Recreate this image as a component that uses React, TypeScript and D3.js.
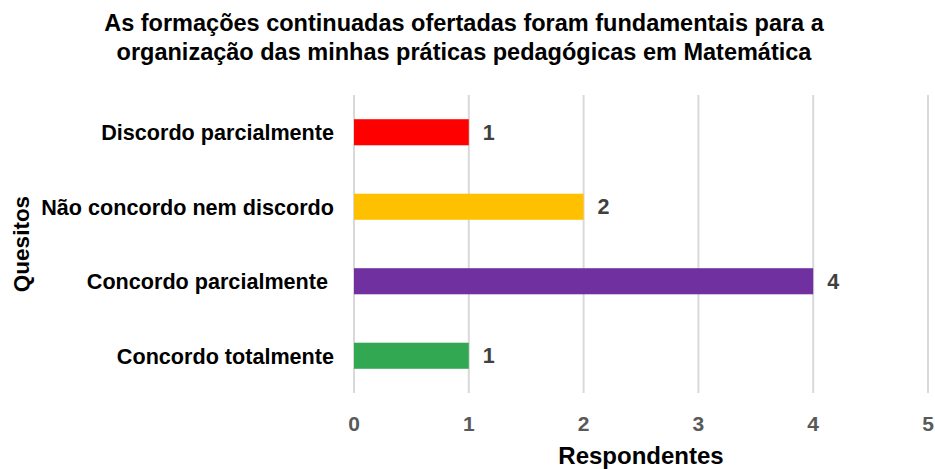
import React, { useEffect, useRef } from 'react';
import * as d3 from 'd3';

const categories = [
  'Discordo parcialmente',
  'Não concordo nem discordo',
  'Concordo parcialmente ',
  'Concordo totalmente',
];
const values = [1, 2, 4, 1];
const colors = ['#ff0000', '#ffc000', '#7030a0', '#33a853'];
const xTicks = [0, 1, 2, 3, 4, 5];
const titleLines = [
  'As formações continuadas ofertadas foram fundamentais para a',
  'organização das minhas práticas pedagógicas em Matemática',
];

const font = 'Arial, "Liberation Sans", sans-serif';

const App = () => {
  const ref = useRef<SVGSVGElement | null>(null);

  useEffect(() => {
    if (!ref.current) return;
    const width = 935, height = 469;
    const margin = { top: 95, right: 7, bottom: 76, left: 354 };
    const innerW = width - margin.left - margin.right;
    const innerH = height - margin.top - margin.bottom;

    const svg = d3.select(ref.current);
    svg.selectAll('*').remove();

    // title
    svg.append('g')
      .selectAll('text')
      .data(titleLines)
      .enter()
      .append('text')
      .attr('x', 464)
      .attr('y', (d, i) => 31 + i * 29)
      .attr('text-anchor', 'middle')
      .style('font-family', font)
      .style('font-weight', 'bold')
      .style('font-size', '23.5px')
      .style('fill', '#000')
      .text(d => d);

    const g = svg.append('g').attr('transform', `translate(${margin.left},${margin.top})`);

    const x = d3.scaleLinear().domain([0, 5]).range([0, innerW]);
    const y = d3.scaleBand().domain(categories).range([0, innerH]).paddingInner(0.65).paddingOuter(0.325);

    // gridlines
    g.selectAll('.grid')
      .data(xTicks)
      .enter()
      .append('line')
      .attr('x1', d => x(d)).attr('x2', d => x(d))
      .attr('y1', 0).attr('y2', innerH)
      .style('stroke', '#d9d9d9')
      .style('stroke-width', 2);

    // x tick labels
    g.selectAll('.tick')
      .data(xTicks)
      .enter()
      .append('text')
      .attr('x', d => x(d))
      .attr('y', innerH + 38)
      .attr('text-anchor', 'middle')
      .style('font-family', font)
      .style('font-weight', 'bold')
      .style('font-size', '21px')
      .style('fill', '#595959')
      .text(d => d);

    // bars
    g.selectAll('.bar')
      .data(categories)
      .enter()
      .append('rect')
      .attr('x', x(0))
      .attr('y', d => y(d)!)
      .attr('width', (d, i) => x(values[i]) - x(0))
      .attr('height', y.bandwidth())
      .style('fill', (d, i) => colors[i]);

    // value labels
    g.selectAll('.val')
      .data(categories)
      .enter()
      .append('text')
      .attr('x', (d, i) => x(values[i]) + 14)
      .attr('y', d => y(d)! + y.bandwidth() / 2)
      .attr('dy', '0.36em')
      .style('font-family', font)
      .style('font-weight', 'bold')
      .style('font-size', '21.5px')
      .style('fill', '#404040')
      .text((d, i) => values[i]);

    // category labels
    g.selectAll('.cat')
      .data(categories)
      .enter()
      .append('text')
      .attr('x', -20)
      .attr('y', d => y(d)! + y.bandwidth() / 2)
      .attr('dy', '0.36em')
      .attr('text-anchor', 'end')
      .style('white-space', 'pre')
      .style('font-family', font)
      .style('font-weight', 'bold')
      .style('font-size', '21.6px')
      .style('fill', '#000')
      .text(d => d);

    // axis titles
    svg.append('text')
      .attr('x', margin.left + innerW / 2)
      .attr('y', 464)
      .attr('text-anchor', 'middle')
      .style('font-family', font)
      .style('font-weight', 'bold')
      .style('font-size', '24px')
      .style('fill', '#000')
      .text('Respondentes');

    svg.append('text')
      .attr('transform', `translate(29,${margin.top + innerH / 2}) rotate(-90)`)
      .attr('text-anchor', 'middle')
      .style('font-family', font)
      .style('font-weight', 'bold')
      .style('font-size', '22.5px')
      .style('fill', '#000')
      .text('Quesitos');
  }, []);

  return (
    <svg
      ref={ref}
      width={935}
      height={469}
      style={{ position: 'absolute', left: 0, top: 0, background: '#fff' }}
    />
  );
};

export default App;
